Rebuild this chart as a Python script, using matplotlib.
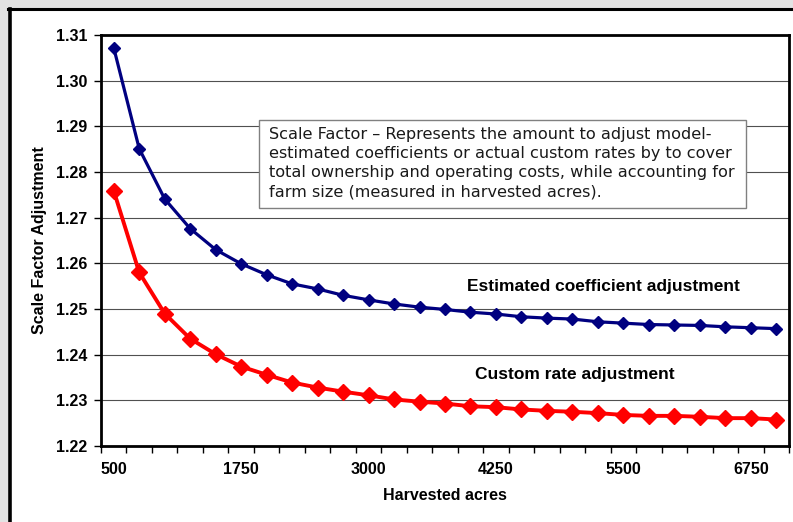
import numpy as np
import matplotlib
matplotlib.use("Agg")
import matplotlib.pyplot as plt
from matplotlib.patches import Rectangle
from matplotlib.lines import Line2D

# Harvested acres categories (500 to 7000 in steps of 250)
acres = list(range(500, 7001, 250))

# Scale factor adjustments read per farm size
estimated_coef = [1.3072, 1.2851, 1.2741, 1.2676, 1.2630, 1.2599, 1.2575, 1.2555,
                  1.2544, 1.2530, 1.2520, 1.2511, 1.2504, 1.2499, 1.2493, 1.2489,
                  1.2483, 1.2480, 1.2478, 1.2472, 1.2469, 1.2466, 1.2465, 1.2464,
                  1.2461, 1.2459, 1.2457]
custom_rate = [1.2759, 1.2580, 1.2490, 1.2435, 1.2401, 1.2374, 1.2356, 1.2339,
               1.2328, 1.2319, 1.2311, 1.2302, 1.2297, 1.2293, 1.2287, 1.2285,
               1.2280, 1.2277, 1.2275, 1.2272, 1.2268, 1.2266, 1.2266, 1.2264,
               1.2261, 1.2261, 1.2258]

y_ticks = [1.22, 1.23, 1.24, 1.25, 1.26, 1.27, 1.28, 1.29, 1.30, 1.31]
labelled_acres = [500, 1750, 3000, 4250, 5500, 6750]

note = ("Scale Factor \u2013 Represents the amount to adjust model-\n"
        "estimated coefficients or actual custom rates by to cover\n"
        "total ownership and operating costs, while accounting for\n"
        "farm size (measured in harvested acres).")

W, H = 793, 522
fig = plt.figure(figsize=(W / 100, H / 100), dpi=100, facecolor="#e3e3e3")

def fx(px):
    return px / W

def fy(py):
    return 1 - py / H

# White chart panel with dark frame on the left and top
fig.add_artist(Rectangle((fx(9), 0), 1 - fx(9), fy(9), transform=fig.transFigure,
                         facecolor="white", edgecolor="none", zorder=-5))
fig.add_artist(Line2D([fx(9.5), fx(9.5)], [0, fy(8.5)], transform=fig.transFigure,
                      color="black", lw=2.6))
fig.add_artist(Line2D([fx(8), 1], [fy(8.5), fy(8.5)], transform=fig.transFigure,
                      color="black", lw=2.2))

ax = fig.add_axes([fx(101), fy(446), fx(789) - fx(101), (446 - 35) / H])
ax.set_facecolor("white")

x = np.arange(len(acres))
ax.plot(x, estimated_coef, color="#000080", lw=2.3, marker="D", ms=6.5,
        markeredgecolor="#000080", zorder=4)
ax.plot(x, custom_rate, color="#ff0000", lw=2.8, marker="D", ms=8,
        markeredgecolor="#ff0000", zorder=3)

ax.set_xlim(-0.5, len(acres) - 0.5)
ax.set_ylim(y_ticks[0], y_ticks[-1])

# Category boundaries carry the tick marks; labels sit on every fifth category
ax.set_xticks(np.arange(-0.5, len(acres), 1.0))
ax.set_xticklabels([])
ax.tick_params(axis="x", which="major", direction="out", length=5, width=1)
lab_pos = [acres.index(a) for a in labelled_acres]
ax.set_xticks(lab_pos, minor=True)
ax.set_xticklabels([str(a) for a in labelled_acres], minor=True,
                   fontfamily="Liberation Sans", fontweight="bold", fontsize=11.5)
ax.tick_params(axis="x", which="minor", length=0, pad=11.5)

ax.set_yticks(y_ticks)
ax.set_yticklabels([f"{v:.2f}" for v in y_ticks], fontfamily="Liberation Sans",
                   fontweight="bold", fontsize=11.5)
ax.tick_params(axis="y", direction="out", length=5, width=1, pad=5)

ax.grid(axis="y", color="#505050", lw=0.8, zorder=0)
ax.set_axisbelow(True)
for s in ax.spines.values():
    s.set_color("black")
    s.set_linewidth(2)

ax.set_xlabel("Harvested acres", fontfamily="Liberation Sans", fontweight="bold",
              fontsize=11.5, va="center")
ax.xaxis.set_label_coords(0.5, -(496 - 446) / 411)
ax.set_ylabel("Scale Factor Adjustment", fontfamily="Liberation Sans",
              fontweight="bold", fontsize=11.5, va="center")
ax.yaxis.set_label_coords((39 - 101) / 688, 0.5)

ax.text(19.2, 1.2550, "Estimated coefficient adjustment", ha="center", va="center",
        fontfamily="Liberation Sans", fontweight="bold", fontsize=12.5, zorder=5)
ax.text(18.1, 1.2357, "Custom rate adjustment", ha="center", va="center",
        fontfamily="Liberation Sans", fontweight="bold", fontsize=12.5, zorder=5)

# Explanatory note box
fig.add_artist(Rectangle((fx(259), fy(208)), fx(746) - fx(259), (208 - 120) / H,
                         transform=fig.transFigure, facecolor="white",
                         edgecolor="#808080", lw=1.0, zorder=6))
fig.text(fx(269), fy(163), note, ha="left", va="center", fontfamily="DejaVu Sans",
         fontsize=11.6, linespacing=1.36, color="#1a1a1a", zorder=7)

fig.savefig("out.png", dpi=100, facecolor=fig.get_facecolor())
